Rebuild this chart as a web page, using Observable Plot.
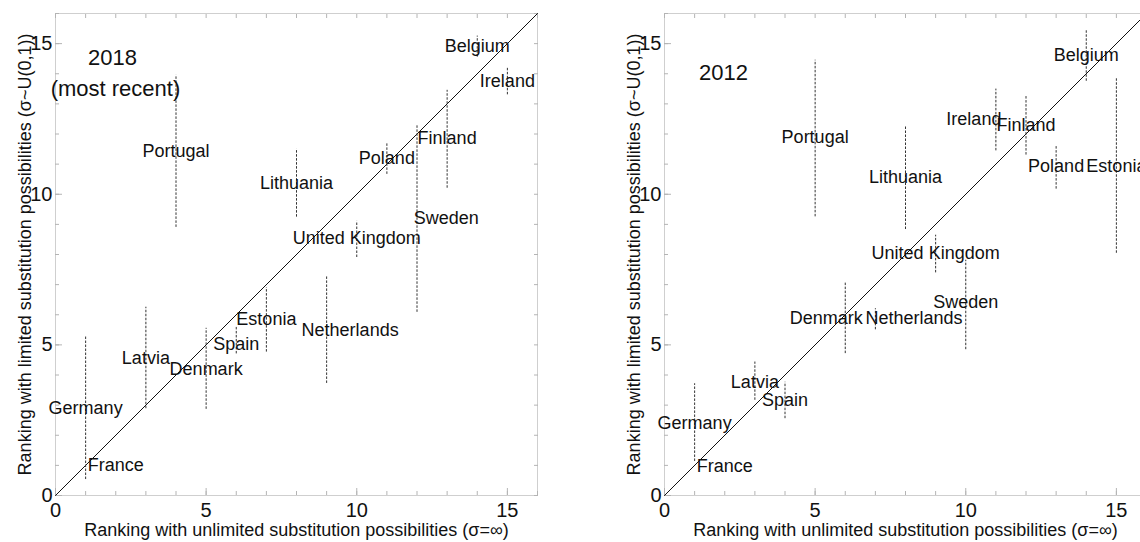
<!DOCTYPE html>
<html><head><meta charset="utf-8">
<script src="https://cdn.jsdelivr.net/npm/d3@7"></script>
<script src="https://cdn.jsdelivr.net/npm/@observablehq/plot@0.6"></script>
<style>
html,body{margin:0;padding:0;background:#fff;overflow:hidden;width:1140px;height:542px;}
#wrap{display:flex;width:1240px;align-items:flex-start;}
</style></head><body><div id="wrap"></div>
<script>
// ---- 2018 (most recent) ----
const countries18 = ["Germany","France","Latvia","Portugal","Denmark","Spain","Estonia","Lithuania","Netherlands","United Kingdom","Poland","Sweden","Finland","Belgium","Ireland"];
const unlimited18 = [1,2,3,4,5,6,7,8,9,10,11,12,13,14,15];
const lo18 = [0.53,null,2.88,8.9,2.86,4.7,4.76,9.24,3.72,7.9,10.66,6.08,10.2,14.55,13.3];
const hi18 = [5.26,null,6.25,13.95,5.55,5.61,6.9,11.5,7.3,9.1,11.7,12.3,13.45,15.25,14.2];
const labelX18 = [1,2,3,4,5,6,7,8,9.78,10,11,12.97,13,14,15];
const labelY18 = [2.89,1.0,4.55,11.44,4.18,5.01,5.85,10.37,5.5,8.54,11.2,9.2,11.86,14.9,13.76];
const tag18 = ["2018","(most recent)"];
const tagX18 = [1.89,1.99];
const tagY18 = [14.54,13.5];

// ---- 2012 ----
const countries12 = ["Germany","France","Latvia","Spain","Portugal","Denmark","Netherlands","Lithuania","United Kingdom","Sweden","Ireland","Finland","Poland","Belgium","Estonia"];
const unlimited12 = [1,2,3,4,5,6,7,8,9,10,11,12,13,14,15];
const lo12 = [1.13,null,3.16,2.55,9.25,4.71,5.5,8.83,7.39,4.84,11.44,11.3,10.17,13.75,8.04];
const hi12 = [3.71,null,4.43,3.76,14.45,7.09,6.2,12.26,8.64,7.81,13.49,13.27,11.63,15.43,13.88];
const labelX12 = [1,2,3,4,5,5.37,8.28,8,9,10,10.27,12,13,14,15];
const labelY12 = [2.4,0.97,3.76,3.16,11.9,5.9,5.87,10.57,8.03,6.42,12.48,12.3,10.94,14.62,10.94];
const tag12 = ["2012"];
const tagX12 = [1.96];
const tagY12 = [14.03];

// ---- axes ----
const majorTicks = [0,5,10,15];
const minorTicks = [0,1,2,3,4,5,6,7,8,9,10,11,12,13,14,15,16];
const diagonal = [0,16];
const xTitle = "Ranking with unlimited substitution possibilities (\u03C3=\u221E)";
const yTitle = "Ranking with limited substitution possibilities (\u03C3~U(0,1))";

function panel(c) {
  const rows = c.countries.map((name,i)=>({name, x:c.unlimited[i], lo:c.lo[i], hi:c.hi[i], lx:c.labelX[i], ly:c.labelY[i]}));
  const bars = rows.filter(d=>d.lo!=null);
  const tags = c.tag.map((t,i)=>({t, x:c.tagX[i], y:c.tagY[i]}));
  const tickStroke = "#b4b4b4";
  const ink = "#111";
  return Plot.plot({
    width: c.width, height: 542,
    marginLeft: c.ml, marginRight: c.mr, marginTop: 13, marginBottom: 47,
    style: {fontFamily:"'Liberation Sans', Arial, sans-serif", fontSize:"18px", color:ink, background:"#fff", overflow:"visible"},
    x: {domain:[0,16]},
    y: {domain:[0,16]},
    marks: [
      Plot.frame({stroke:"#cfcfcf"}),
      Plot.axisX(minorTicks, {anchor:"bottom", tickSize:-4, text:null, label:null, stroke:tickStroke}),
      Plot.axisX(minorTicks, {anchor:"top", tickSize:-4, text:null, label:null, stroke:tickStroke}),
      Plot.axisY(minorTicks, {anchor:"left", tickSize:-4, text:null, label:null, stroke:tickStroke}),
      Plot.axisY(minorTicks, {anchor:"right", tickSize:-4, text:null, label:null, stroke:tickStroke}),
      Plot.axisX(majorTicks, {anchor:"bottom", tickSize:-7, text:null, label:null, stroke:tickStroke}),
      Plot.axisY(majorTicks, {anchor:"left", tickSize:-7, text:null, label:null, stroke:tickStroke}),
      Plot.axisX(majorTicks, {anchor:"bottom", tickSize:0, tickPadding:7, fontSize:20, fill:ink, label:null}),
      Plot.axisY(majorTicks, {anchor:"left", tickSize:0, tickPadding:3, fontSize:20, fill:ink, label:null}),
      Plot.axisX(majorTicks, {anchor:"bottom", tickSize:0, text:null, fill:ink, label:xTitle, labelAnchor:"center", labelArrow:"none", labelOffset:40}),
      Plot.axisY(majorTicks, {anchor:"left", tickSize:0, text:null, fill:ink, label:yTitle, labelAnchor:"center", labelArrow:"none", labelOffset:37}),
      Plot.line(diagonal, {x:d=>d, y:d=>d, stroke:ink, strokeWidth:1}),
      Plot.ruleX(bars, {x:"x", y1:"lo", y2:"hi", stroke:"#333", strokeWidth:1, strokeDasharray:"2.5,1.5"}),
      Plot.text(rows, {x:"lx", y:"ly", text:"name", fontSize:18, fill:ink}),
      Plot.text(tags, {x:"x", y:"y", text:"t", fontSize:22, fill:ink})
    ]
  });
}

const wrap = document.getElementById("wrap");
wrap.append(panel({countries:countries18, unlimited:unlimited18, lo:lo18, hi:hi18, labelX:labelX18, labelY:labelY18, tag:tag18, tagX:tagX18, tagY:tagY18, width:600, ml:55, mr:63}));
wrap.append(panel({countries:countries12, unlimited:unlimited12, lo:lo12, hi:hi12, labelX:labelX12, labelY:labelY12, tag:tag12, tagX:tagX12, tagY:tagY12, width:600, ml:64, mr:54}));
</script>
</body></html>
